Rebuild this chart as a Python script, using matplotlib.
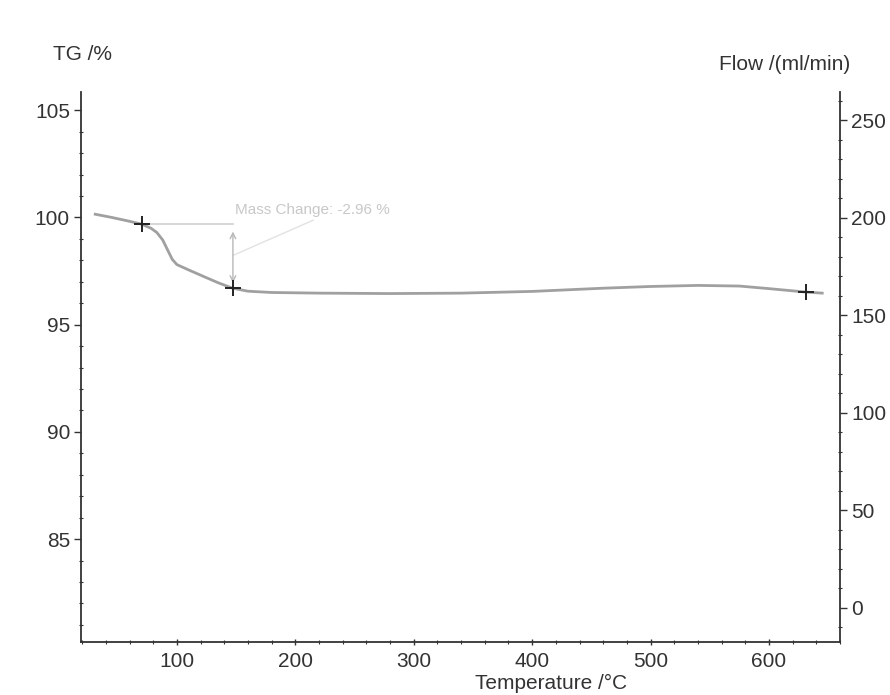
import numpy as np
import matplotlib.pyplot as plt
from matplotlib.ticker import MultipleLocator

plt.rcParams['font.family'] = ['Liberation Sans', 'DejaVu Sans']

# TG curve (temperature in degC, mass in %)
temp = [31, 45, 60, 70, 78, 83, 88, 92, 96, 100, 110, 122, 135, 147, 160,
        180, 220, 280, 340, 400, 460, 500, 540, 575, 600, 631, 645]
tg = [100.15, 100.0, 99.82, 99.69, 99.5, 99.3, 98.95, 98.5, 98.05, 97.8,
      97.55, 97.26, 96.95, 96.70, 96.56, 96.5, 96.47, 96.45, 96.47, 96.55,
      96.7, 96.78, 96.83, 96.8, 96.68, 96.52, 96.47]

# evaluation points (+ markers)
mark_t = [70.4, 147.3, 631]
mark_tg = [99.69, 96.70, 96.51]

mass_change = -2.96

x_ticks = [100, 200, 300, 400, 500, 600]
tg_ticks = [85, 90, 95, 100, 105]
flow_ticks = [0, 50, 100, 150, 200, 250]

dark = '#333333'
fs = 15

fig = plt.figure(figsize=(8.9, 6.95), dpi=100)
ax = fig.add_axes([81/890, 1 - 642/695, (840 - 81)/890, (642 - 92)/695])
ax2 = ax.twinx()

ax.plot(temp, tg, color='#a0a0a0', lw=2.0, zorder=3)
ax.plot(mark_t, mark_tg, ls='none', marker='+', ms=11, mew=1.4,
        color='#222222', zorder=4)

# mass change step annotation
ax.plot([mark_t[0], mark_t[1]], [mark_tg[0], mark_tg[0]], color='#cfcfcf',
        lw=1.2, zorder=2)
ax.annotate('', xy=(mark_t[1], mark_tg[1] + 0.25), xytext=(mark_t[1], mark_tg[0] - 0.35),
            arrowprops=dict(arrowstyle='<->', color='#b8b8b8', lw=1.0,
                            shrinkA=0, shrinkB=0))
ax.plot([mark_t[1] + 0.5, 215], [98.24, 99.87], color='#e2e2e2', lw=1.0)
ax.text(149, 100.34, 'Mass Change: %.2f %%' % mass_change, color='#c8c8c8',
        fontsize=11, ha='left', va='center')

ax.set_xlim(19, 660)
ax.set_ylim(80.2, 105.85)
ax2.set_ylim(-17.5, 264.6)

ax.set_xticks(x_ticks)
ax.set_yticks(tg_ticks)
ax2.set_yticks(flow_ticks)
ax.xaxis.set_minor_locator(MultipleLocator(20))
ax.yaxis.set_minor_locator(MultipleLocator(1))
ax2.yaxis.set_minor_locator(MultipleLocator(10))

for a in (ax, ax2):
    a.spines['top'].set_visible(False)
    for s in a.spines.values():
        s.set_color(dark)
        s.set_linewidth(1.3)
    a.tick_params(which='major', length=5, width=1.0, color=dark,
                  labelsize=fs, labelcolor=dark, pad=3)
    a.tick_params(which='minor', length=3, width=0.8, color=dark)
ax.spines['right'].set_visible(False)
ax2.spines['left'].set_visible(False)
ax2.spines['bottom'].set_visible(False)
ax.tick_params(axis='x', which='both', direction='inout', pad=5)
ax.tick_params(axis='y', which='minor', direction='inout')
ax2.tick_params(axis='y', which='minor', direction='inout')

fig.text(53/890, 1 - 55/695, 'TG /%', fontsize=fs, color=dark,
         ha='left', va='center')
fig.text(719/890, 1 - 65/695, 'Flow /(ml/min)', fontsize=fs, color=dark,
         ha='left', va='center')
fig.text(551/890, 1 - 683/695, 'Temperature /°C', fontsize=fs, color=dark,
         ha='center', va='center')

fig.savefig('out.png', dpi=100)
